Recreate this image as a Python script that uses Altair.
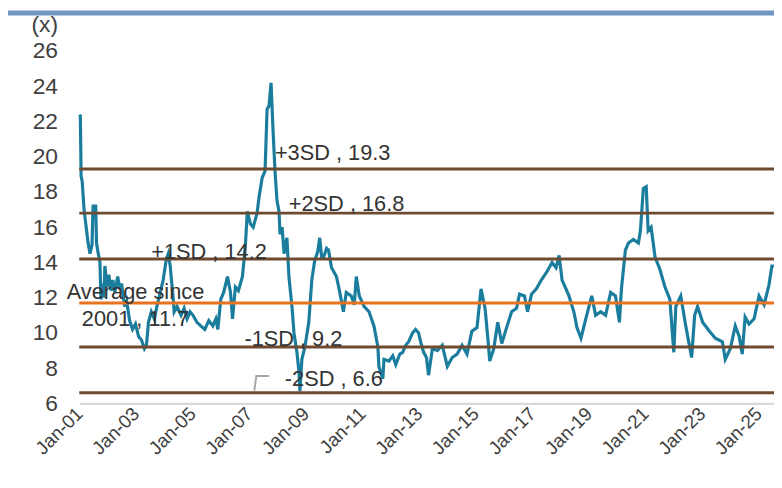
import altair as alt
import pandas as pd

# ---- series ----
dates = [
"2001-01-08","2001-01-15","2001-01-25","2001-02-08","2001-03-04","2001-04-25","2001-05-20","2001-06-15","2001-06-28","2001-08-01",
"2001-08-12","2001-08-30","2001-09-25","2001-10-08","2001-10-27","2001-11-15","2001-11-28","2001-12-24","2002-01-18","2002-02-13",
"2002-03-10","2002-04-05","2002-05-12","2002-06-07","2002-07-01","2002-08-10","2002-09-05","2002-10-13","2002-11-20","2002-12-28",
"2003-02-06","2003-03-15","2003-04-22","2003-05-18","2003-06-13","2003-07-20","2003-08-28","2003-10-05","2003-11-13","2003-12-20",
"2004-01-30","2004-02-24","2004-03-20","2004-04-01","2004-04-27","2004-05-10","2004-06-17","2004-08-07","2004-09-15","2004-10-24",
"2004-12-01","2005-01-08","2005-02-28","2005-04-18","2005-06-09","2005-07-31","2005-09-21","2005-10-30","2005-11-25","2006-01-01",
"2006-02-08","2006-03-29","2006-05-07","2006-06-02","2006-07-09","2006-08-17","2006-10-08","2006-11-14","2006-12-10","2007-01-18",
"2007-02-24","2007-03-21","2007-04-15","2007-05-10","2007-06-19","2007-07-27","2007-08-22","2007-09-16","2007-10-12","2007-11-06",
"2007-12-02","2007-12-28","2008-01-23","2008-02-05","2008-03-03","2008-03-28","2008-05-04","2008-05-30","2008-07-08","2008-08-03",
"2008-09-10","2008-10-06","2008-10-19","2008-11-13","2008-12-22","2009-02-10","2009-03-21","2009-04-27","2009-06-05","2009-07-01",
"2009-07-26","2009-08-21","2009-09-28","2009-10-23","2009-12-01","2010-02-02","2010-03-13","2010-05-03","2010-06-09","2010-08-13",
"2010-09-20","2010-10-16","2010-11-24","2011-01-26","2011-03-30","2011-06-01","2011-07-22","2011-08-04","2011-09-24","2011-10-08",
"2011-12-11","2012-01-30","2012-03-09","2012-04-30","2012-06-06","2012-07-15","2012-08-22","2012-10-12","2012-11-20","2012-12-28",
"2013-01-23","2013-03-03","2013-04-09","2013-05-05","2013-06-24","2013-08-28","2013-10-30","2014-01-03","2014-03-07","2014-05-10",
"2014-07-12","2014-09-14","2014-11-16","2015-01-21","2015-03-14","2015-05-05","2015-06-10","2015-07-05","2015-08-25","2015-10-16",
"2015-12-07","2016-02-07","2016-04-12","2016-06-14","2016-07-23","2016-09-25","2016-11-03","2016-12-25","2017-02-25","2017-04-30",
"2017-07-15","2017-09-16","2017-11-06","2017-12-16","2018-01-23","2018-03-14","2018-04-22","2018-06-24","2018-08-03","2018-09-24",
"2018-11-25","2019-02-10","2019-04-01","2019-06-06","2019-08-08","2019-10-12","2019-12-13","2020-02-02","2020-02-28","2020-04-19",
"2020-05-28","2020-07-31","2020-10-04","2020-10-30","2020-12-07","2021-01-13","2021-02-07","2021-03-17","2021-05-07","2021-07-09",
"2021-09-12","2021-11-14","2022-01-04","2022-01-30","2022-04-04","2022-06-07","2022-08-22","2022-09-30","2022-11-07","2023-01-11",
"2023-04-09","2023-06-24","2023-09-23","2023-10-30","2024-01-03","2024-03-07","2024-04-27","2024-06-05","2024-07-12","2024-09-01",
"2024-11-05","2025-01-08","2025-03-14","2025-05-15","2025-06-23","2025-07-19",
]
values = [
22.4,22.3,18.9,18.6,17.0,15.1,14.5,15.0,17.2,17.2,
15.1,14.6,14.0,11.9,12.8,12.0,13.8,12.6,13.3,12.4,
13.0,12.3,13.2,12.5,12.8,11.5,11.8,10.7,10.2,10.5,
9.8,9.6,9.1,9.3,10.6,11.2,10.8,11.6,12.3,13.0,
14.2,14.5,13.8,13.2,12.0,11.2,11.5,11.0,11.4,10.8,
11.2,11.0,10.6,10.4,10.2,10.7,10.4,10.8,10.2,11.9,
12.3,13.2,12.3,10.8,12.6,12.4,13.2,14.9,16.9,16.2,
16.0,16.4,16.8,17.7,18.8,19.2,22.7,22.9,24.2,21.6,
19.2,17.5,16.9,15.6,16.0,14.5,15.4,13.2,11.5,10.0,
8.9,7.8,6.7,8.5,9.2,10.6,13.0,14.1,14.6,15.4,
14.3,14.3,14.8,14.7,13.7,13.2,12.4,11.2,12.3,12.1,
11.6,13.2,12.1,11.5,11.2,10.4,9.2,8.1,7.4,8.5,
8.4,8.7,8.2,8.8,8.9,9.3,9.5,10.0,10.2,10.0,
9.5,8.9,8.6,7.6,9.1,9.0,9.3,8.1,8.6,8.8,
9.3,8.8,10.1,10.3,12.5,11.4,9.7,8.4,9.1,10.6,
9.4,10.3,11.2,11.4,12.2,12.1,11.2,12.2,12.5,13.0,
13.5,14.0,13.7,14.4,13.0,12.5,12.1,11.2,10.3,9.7,
10.8,12.1,11.0,11.2,11.0,12.3,12.1,10.6,12.5,14.7,
15.1,15.3,15.1,15.8,18.2,18.3,15.8,16.0,14.3,13.6,
12.6,11.9,8.9,11.5,12.1,10.4,8.6,11.0,11.5,10.6,
10.1,9.7,9.5,8.5,9.1,10.4,9.8,8.8,10.9,10.5,
10.8,12.1,11.6,12.7,13.8,13.8,
]

# ---- reference levels ----
level_names = ["+3SD", "+2SD", "+1SD", "Average", "-1SD", "-2SD"]
level_values = [19.3, 16.8, 14.2, 11.7, 9.2, 6.6]
level_colors = ["#6E4B30", "#6E4B30", "#6E4B30", "#E8721E", "#6E4B30", "#6E4B30"]

# ---- annotation texts and anchor positions (data coordinates) ----
label_texts = ["+3SD ,  19.3", "+2SD ,  16.8", "+1SD ,  14.2", "Average since",
               "2001 ,  11.7", "-1SD ,  9.2", "-2SD ,  6.6"]
label_dates = ["2007-12-01", "2008-05-28", "2003-07-19", "2002-12-28",
               "2002-12-28", "2006-11-02", "2008-04-07"]
label_values = [20.2, 17.33, 14.58, 12.33, 10.76, 9.64, 7.39]
label_align = ["left", "left", "left", "center", "center", "left", "left"]

# leader line of the -2SD label
leader_dates = ["2007-03-10", "2007-04-05", "2007-09-17"]
leader_values = [6.72, 7.56, 7.56]

tick_years = list(range(2001, 2026, 2))
y_ticks = list(range(6, 27, 2))

FONT = "Liberation Sans"
TXT = "#404040"

series = pd.DataFrame({"date": dates, "value": values})
levels = pd.DataFrame({"name": level_names, "value": level_values, "color": level_colors})
labels = pd.DataFrame({"text": label_texts, "date": label_dates, "value": label_values, "align": label_align})
leader = pd.DataFrame({"date": leader_dates, "value": leader_values, "order": [0, 1, 2]})

x_scale = alt.Scale(domain=[alt.DateTime(year=2001, month=1, date=1),
                            alt.DateTime(year=2025, month=7, date=20)])
y_scale = alt.Scale(domain=[6, 26], nice=False, zero=False)

x_axis = alt.Axis(
    values=[alt.DateTime(year=yv, month=1, date=1) for yv in tick_years],
    format="%b-%y", labelAngle=315, labelAlign="right", labelBaseline="middle",
    labelFontSize=19, labelColor=TXT, labelFont=FONT, labelPadding=7,
    ticks=False, grid=False, domain=True, domainColor="#D9D9D9", domainWidth=2.5,
    title=None, labelOverlap=False, labelFlush=False,
)
y_axis = alt.Axis(
    values=y_ticks, labelFontSize=23, labelColor=TXT, labelFont=FONT, labelPadding=22,
    labelOverlap=False, labelFlush=False,
    ticks=False, grid=False, domain=False,
    title="(x)", titleAngle=0, titleFontSize=23, titleFont=FONT, titleColor=TXT,
    titleFontWeight="normal", titleAlign="right", titleBaseline="middle",
    titleX=-22, titleY=-27,
)

X = alt.X("date:T", scale=x_scale, axis=x_axis)
Y = alt.Y("value:Q", scale=y_scale, axis=y_axis)

line = alt.Chart(series).mark_line(color="#1B7D9E", strokeWidth=3.2, interpolate="linear").encode(
    x=X, y=Y,
)

rules = alt.Chart(levels).mark_rule(strokeWidth=3).encode(
    y=Y,
    color=alt.Color("color:N", scale=None, legend=None),
)

leader_line = alt.Chart(leader).mark_line(color="#A6A6A6", strokeWidth=2).encode(
    x=X, y=Y, order="order:Q",
)

text_left = alt.Chart(labels[labels["align"] == "left"]).mark_text(
    align="left", baseline="middle", fontSize=22, font=FONT, color="#333333"
).encode(x=X, y=Y, text="text:N")

text_center = alt.Chart(labels[labels["align"] == "center"]).mark_text(
    align="center", baseline="middle", fontSize=22, font=FONT, color="#333333"
).encode(x=X, y=Y, text="text:N")

top_bar = alt.Chart(pd.DataFrame({"v": [0]})).mark_rect(color="#7097C2").encode(
    x=alt.value(-72), x2=alt.value(702), y=alt.value(-41), y2=alt.value(-36)
)

chart = alt.layer(line, rules, leader_line, text_left, text_center, top_bar).properties(
    width=702, height=356,
    padding={"left": 72, "top": 41, "right": 0, "bottom": 83},
    autosize=alt.AutoSizeParams(type="none"),
    background="white",
).configure_view(stroke=None).configure_axisY(labelOverlap=False)

chart.save("out.html", embed_options={"renderer": "svg", "actions": False})
